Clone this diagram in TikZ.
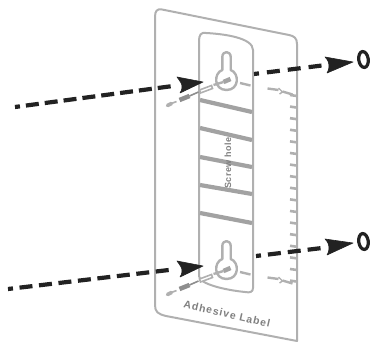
\documentclass[tikz,border=0pt]{standalone}
\usepackage{fontspec}
\usetikzlibrary{shapes.geometric}
\setmainfont{Liberation Sans}
\newfontfamily\labelfont[LetterSpace=9]{Liberation Sans}
\newfontfamily\holefont[LetterSpace=5]{Liberation Sans}
\definecolor{panelgrey}{HTML}{B0B0B0}
\definecolor{bargrey}{HTML}{A2A2A2}
\definecolor{screwgrey}{HTML}{8E8E8E}
\definecolor{textgrey}{HTML}{808080}
\definecolor{arrowblack}{HTML}{222222}
\tikzset{
  panel/.style={draw=panelgrey,line width=2pt,line join=round},
  stripe/.style={draw=bargrey,line width=4.2pt},
  tick/.style={draw=panelgrey,line width=2.6pt},
  dashline/.style={draw=arrowblack,line width=4.2pt},
  arrowbody/.style={fill=arrowblack,draw=arrowblack,line width=0.6pt,line join=round},
  ring/.style={draw=arrowblack,line width=3.2pt,ellipse,minimum width=9.5pt,minimum height=16pt,inner sep=0pt},
  keyhole/.pic={
    \draw[draw=panelgrey,line width=2.4pt,line join=round]
      (-4.2,-9) -- (-4.2,-22) .. controls (-4.2,-28.5) and (4.2,-28.5) .. (4.2,-22) -- (4.2,-9)
      .. controls (13,-6) and (13,11) .. (0,11) .. controls (-13,11) and (-13,-6) .. (-4.2,-9) -- cycle;
    \draw[screwgrey!80,line width=4.5pt] (-3,3) -- (4,0);
    \draw[panelgrey,line width=2.4pt] (-13,6) -- (-3,3);
    \draw[panelgrey,line width=1.6pt,fill=white] (-27,11) -- (-15,6.5) -- (-14,9.5) -- (-26,14) -- cycle;
    \draw[screwgrey,line width=4.5pt] (-47,21) -- (-37,17);
    \draw[screwgrey,line width=1.6pt] (-37,17) -- (-28,13);
    \draw[panelgrey,line width=3.6pt,line cap=round] (-59,26.5) -- (-55,24.5);
    \draw[panelgrey,line width=1.6pt] (-55,24.5) -- (-50,22.5);
    \draw[panelgrey,line width=2.4pt] (13.5,4) -- (24,6.5);
    \draw[panelgrey,line width=2.4pt] (41,9.5) -- (52,11);
    \draw[panelgrey,line width=1.4pt] (52,9) -- (56,13) -- (53,15);
    \draw[panelgrey,line width=2.4pt] (56,12.5) -- (66,15.5);
  }
}
\begin{document}
\begin{tikzpicture}[x=1pt,y=-1pt]
\useasboundingbox (0,0) rectangle (372,342);
% outer and inner panels
\draw[panel] (155,17) .. controls (155,11) and (157,8.5) .. (162,9.5) -- (289,35)
  .. controls (294,36) and (297,38) .. (297,44) -- (297,341) -- (166,316)
  .. controls (158,314) and (155,312) .. (155,305) -- cycle;
\draw[panel] (199,41) .. controls (199,35) and (201,32) .. (206,33)
  .. controls (225,34) and (253,38) .. (253,50) -- (253,288)
  .. controls (253,292) and (250,293) .. (245,292)
  .. controls (225,290) and (199,284) .. (199,276) -- cycle;
% stripes
\draw[stripe] (200,100) -- (252,112);
\draw[stripe] (200,128) -- (252,140);
\draw[stripe] (200,157) -- (252,167);
\draw[stripe] (200,185) -- (252,194);
\draw[stripe] (200,213) -- (252,223);
% scale ticks on the right edge
\foreach \k in {0,...,16}{
  \draw[tick] (290,95+11.6*\k) -- (297,96+11.6*\k);
}
\node[rotate=90,text=textgrey,font=\holefont\bfseries\fontsize{9}{10}\selectfont] (hole) at (228,163) {Screw hole};
\node[rotate=-13,text=textgrey,font=\labelfont\bfseries\fontsize{10.5}{12}\selectfont] (adh) at (227,314) {Adhesive Label};
% keyholes and screws
\pic at (226.5,79) {keyhole};
\pic at (226.5,268) {keyhole};
% top arrows
\coordinate (tl0) at (15,107);
\coordinate (tl1) at (173,86);
\draw[dashline,dash pattern=on 13pt off 6pt,dash phase=8pt] (tl0) -- (tl1);
\path[arrowbody] (203,82) -- (177,77) .. controls (180,81) and (182,84) .. (182,86) .. controls (182,88) and (182,90) .. (180,93) -- cycle;
\coordinate (tr0) at (254,74);
\coordinate (tr1) at (322,65.5);
\draw[dashline,dash pattern=on 13pt off 8pt,dash phase=8pt] (tr0) -- (tr1);
\path[arrowbody] (353,62) -- (325,57) .. controls (328,60) and (329,63) .. (329,65) .. controls (329,67) and (329,70) .. (327,73) -- cycle;
\node[ring,rotate=8] (nut1) at (363.5,59.5) {};
% bottom arrows
\coordinate (bl0) at (8,289);
\coordinate (bl1) at (173,269.5);
\draw[dashline,dash pattern=on 13pt off 6.6pt,dash phase=8pt] (bl0) -- (bl1);
\path[arrowbody] (203,266) -- (177,261) .. controls (180,265) and (182,268) .. (182,270) .. controls (182,272) and (182,274) .. (180,277) -- cycle;
\coordinate (br0) at (256,256);
\coordinate (br1) at (322,248);
\draw[dashline,dash pattern=on 13pt off 7pt,dash phase=8pt] (br0) -- (br1);
\path[arrowbody] (353,243) -- (325,239) .. controls (328,242) and (329,245) .. (329,247) .. controls (329,249) and (329,252) .. (327,255) -- cycle;
\node[ring,rotate=8] (nut2) at (363.5,241.5) {};
\end{tikzpicture}
\end{document}
